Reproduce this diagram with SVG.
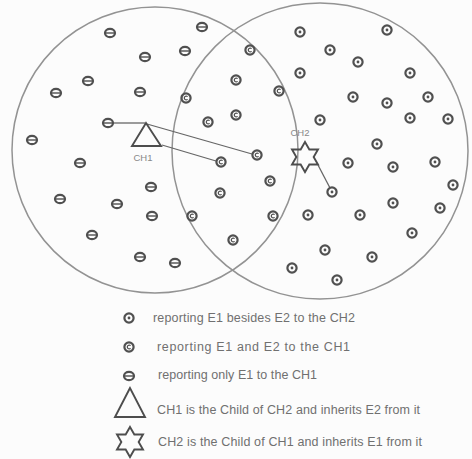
<svg xmlns="http://www.w3.org/2000/svg" width="472" height="459" viewBox="0 0 472 459">
<style>
.area{fill:none;stroke:#939393;stroke-width:1.5}
.nd{fill:none;stroke:#505050;stroke-width:2.2}
.in{fill:#505050;stroke:none}
.ln{stroke:#666;stroke-width:1.3;fill:none}
.ch{fill:none;stroke:#4d4d4d;stroke-width:1.9;stroke-linejoin:miter}
.lbl{font-family:"Liberation Sans",Arial,sans-serif;font-size:9.5px;fill:#888}
.lg{font-family:"Liberation Sans",Arial,sans-serif;font-size:12.5px;fill:#707070}
</style>
<defs>
<g id="sa"><circle r="4.6" class="nd"/><circle r="1.4" class="in"/></g>
<g id="sb"><circle r="4.6" class="nd"/><path d="M1.6,-1.3 A1.9,1.9 0 1 0 1.6,1.3" fill="none" stroke="#505050" stroke-width="1.2"/></g>
<g id="sc"><ellipse rx="5" ry="4.2" class="nd"/><line x1="-4.6" y1="0" x2="4.6" y2="0" stroke="#505050" stroke-width="1.4"/></g>
<path id="star" d="M0,-15 L4.33,-7.5 L12.99,-7.5 L8.66,0 L12.99,7.5 L4.33,7.5 L0,15 L-4.33,7.5 L-12.99,7.5 L-8.66,0 L-12.99,-7.5 L-4.33,-7.5 Z"/>
</defs>
<rect width="472" height="459" fill="#fcfcfc"/>
<g id="areas">
<circle id="area-ch1" class="area" cx="155" cy="150" r="143"/>
<circle id="area-ch2" class="area" cx="320" cy="151" r="148"/>
</g>
<g id="connectors">
<line class="ln" x1="113" y1="123" x2="145" y2="123"/>
<line class="ln" x1="147" y1="124" x2="252" y2="154"/>
<line class="ln" x1="162" y1="145" x2="216" y2="161"/>
<line class="ln" x1="318" y1="165" x2="330" y2="188"/>
</g>
<g id="ch1"><path class="ch" d="M146,123 L132,146 L161,146 Z"/><text class="lbl" x="143" y="161" text-anchor="middle">CH1</text></g>
<g id="ch2"><use href="#star" class="ch" x="305" y="157"/><text class="lbl" x="300" y="136" text-anchor="middle">CH2</text></g>
<g id="nodes-ch1-only">
<use href="#sc" x="110" y="33"/><use href="#sc" x="202" y="27"/><use href="#sc" x="185" y="51"/>
<use href="#sc" x="145" y="57"/><use href="#sc" x="88" y="81"/><use href="#sc" x="56" y="93"/>
<use href="#sc" x="140" y="92"/><use href="#sc" x="108" y="123"/><use href="#sc" x="32" y="140"/>
<use href="#sc" x="80" y="163"/><use href="#sc" x="151" y="187"/><use href="#sc" x="60" y="199"/>
<use href="#sc" x="117" y="204"/><use href="#sc" x="152" y="216"/><use href="#sc" x="92" y="235"/>
<use href="#sc" x="140" y="257"/><use href="#sc" x="175" y="263"/>
</g>
<g id="nodes-both">
<use href="#sb" x="186" y="98"/><use href="#sb" x="208" y="122"/><use href="#sb" x="236" y="80"/>
<use href="#sb" x="236" y="115"/><use href="#sb" x="250" y="50"/><use href="#sb" x="279" y="91"/>
<use href="#sb" x="192" y="216"/><use href="#sb" x="221" y="162"/><use href="#sb" x="220" y="193"/>
<use href="#sb" x="233" y="240"/><use href="#sb" x="257" y="155"/><use href="#sb" x="270" y="181"/>
<use href="#sb" x="273" y="216"/>
</g>
<g id="nodes-ch2-only">
<use href="#sa" x="300" y="32"/><use href="#sa" x="387" y="30"/><use href="#sa" x="330" y="50"/>
<use href="#sa" x="358" y="62"/><use href="#sa" x="300" y="73"/><use href="#sa" x="410" y="73"/>
<use href="#sa" x="353" y="97"/><use href="#sa" x="387" y="103"/><use href="#sa" x="428" y="97"/>
<use href="#sa" x="320" y="120"/><use href="#sa" x="410" y="118"/><use href="#sa" x="448" y="119"/>
<use href="#sa" x="377" y="144"/><use href="#sa" x="332" y="192"/><use href="#sa" x="348" y="163"/>
<use href="#sa" x="393" y="167"/><use href="#sa" x="435" y="162"/><use href="#sa" x="453" y="185"/>
<use href="#sa" x="393" y="203"/><use href="#sa" x="440" y="208"/><use href="#sa" x="308" y="215"/>
<use href="#sa" x="360" y="215"/><use href="#sa" x="412" y="233"/><use href="#sa" x="325" y="250"/>
<use href="#sa" x="372" y="257"/><use href="#sa" x="292" y="268"/><use href="#sa" x="337" y="280"/>
</g>
<g id="legend">
<use href="#sa" x="129" y="318"/>
<text class="lg" x="153" y="322" textLength="202" lengthAdjust="spacing">reporting E1 besides E2 to the CH2</text>
<use href="#sb" x="129" y="347"/>
<text class="lg" x="157" y="351" textLength="193" lengthAdjust="spacing">reporting E1 and E2  to the CH1</text>
<use href="#sc" x="129" y="376"/>
<text class="lg" x="158" y="379" textLength="159" lengthAdjust="spacing">reporting only E1 to the CH1</text>
<path class="ch" d="M130,388 L115,417 L145,417 Z"/>
<text class="lg" x="157" y="414" textLength="263" lengthAdjust="spacing">CH1 is the Child of CH2 and inherits E2 from it</text>
<use href="#star" class="ch" x="130" y="442"/>
<text class="lg" x="158" y="446" textLength="264" lengthAdjust="spacing">CH2 is the Child of CH1 and inherits E1 from it</text>
</g>
</svg>
